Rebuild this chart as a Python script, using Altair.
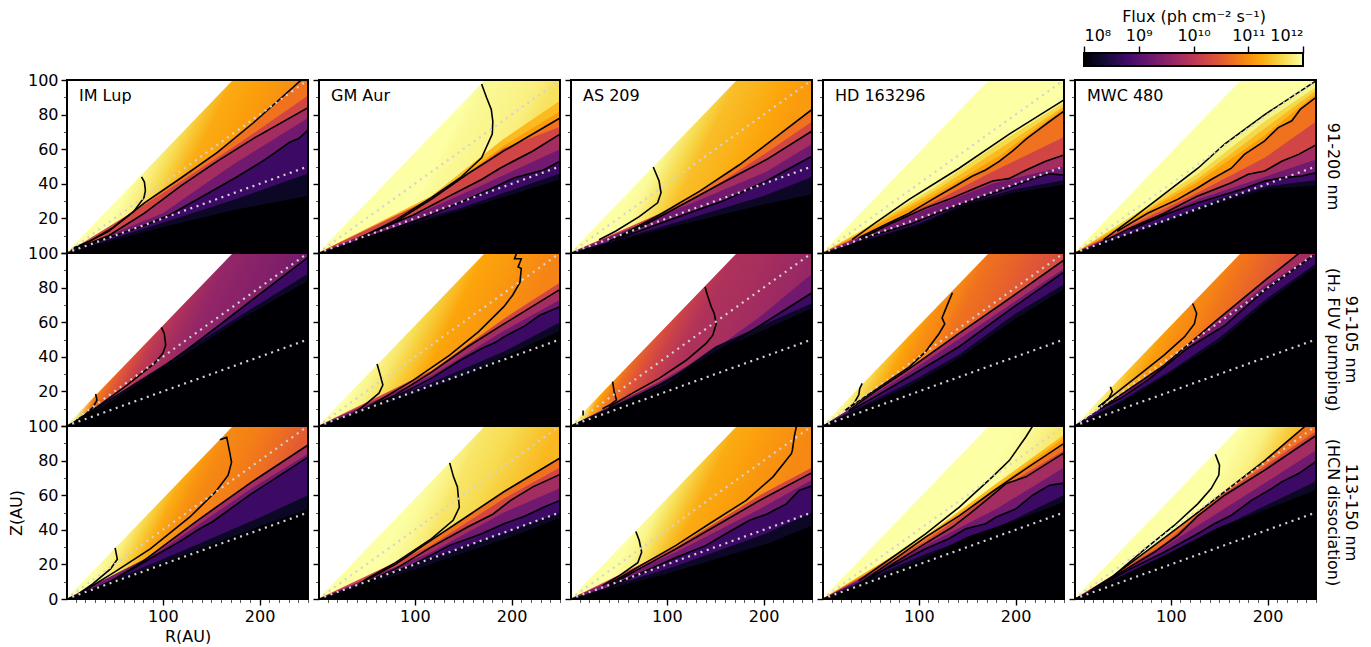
import altair as alt
import pandas as pd

STARS = ["IM Lup", "GM Aur", "AS 209", "HD 163296", "MWC 480"]
ROW_TEXT = [["91-200 nm"], ["91-105 nm", "(H₂ FUV pumping)"], ["113-150 nm", "(HCN dissociation)"]]
LEVELS = [8, 8.5, 9, 9.5, 10, 10.5, 11, 11.25, 11.5, 11.75, 12]
BAR_TICKS = [8, 9, 10, 11, 12]
INFERNO = ["#000004", "#160b39", "#420a68", "#6a176e", "#932667", "#bc3754", "#dd513a", "#f37819", "#fca50a", "#f6d746", "#fcffa4"]
Y_MAJOR = [0, 20, 40, 60, 80, 100]
Y_MINOR = [10, 30, 50, 70, 90]
X_MAJOR = [100, 200]
X_MINOR = [10, 20, 30, 40, 50, 60, 70, 80, 90, 110, 120, 130, 140, 150, 160, 170, 180, 190, 210, 220, 230, 240, 250]
WEDGE_R = [0, 250]
WEDGE_Z = [0, 145]
DOT_HI_Z = [0, 100]
DOT_LO_Z = [0, 50]

# black contour lines: log10 flux -> (R, Z)
L00 = {12: [(8,3),(25,7),(48,14.5),(70,24),(80.5,32),(82,36),(81,41),(78,44)],
       11: [(5,1.5),(18,5),(44,12.5),(81,29),(119,43.5),(156,58),(193,75),(243,100)],
       10: [(10,2.5),(44,10),(81,23),(119,39),(156,53),(193,66),(250,84)],
       9: [(10,2),(44,9),(74,14.5),(107,22),(145,34),(175,43.5),(200,52),(216,58),(231,64),(240,66),(250,71)]}
L01 = {12: [(37,6),(50,10.6),(80,19),(117,32),(147,43.5),(169,55),(180,68.7),(180.6,76),(179,83),(174,90),(169,97.7)],
       11: [(42.5,8.7),(80,18),(117,31),(154,45.5),(192,59),(250,78)],
       10: [(42.5,8.7),(61,13.5),(98.5,22),(136,33),(169,42.5),(188,49),(222,59),(250,68.7)],
       9: [(42.5,7.7),(80,14.5),(117,22),(154,31),(177,36.7),(203,43.5),(233,48),(250,53)]}
L02 = {12: [(30,7.7),(47,12.6),(71.5,21),(90.5,29),(94,34.8),(92,41.6),(86,49.7)],
       11: [(51,9.7),(92,22),(134,35.8),(175,51),(210,65.8),(250,83)],
       10: [(40,6.8),(65,12.6),(109.5,26),(154,39.6),(203,54),(250,70.5)],
       9: [(47,7.7),(85,15.5),(127,24),(158,30),(203,41.6),(227,49),(250,56)]}
L03 = {12: [(31,7.7),(55,17.4),(90,31),(141.6,49),(193.4,68.7),(250,88.5)],
       11: [(38,8.7),(62,15.5),(90,23),(114,31),(134.7,37.7),(155.4,44.5),(169,48),(183,53),(197,59),(210.7,65.8),(224.5,71.6),(235,76),(250,82)],
       10: [(38,7.7),(72.5,17.4),(107,26),(131,31),(155,36.7),(176,41.6),(193,43),(211,48),(231,53),(250,56.7)],
       9: [(31,5),(55,10.6),(90,16.4),(124,24),(159,31),(193,37.7),(221,43.5),(235,45.8),(250,45)]}
L04 = {12: [(30.5,7.7),(58,19),(86,31),(128,49),(155.6,63),(197,80),(250,99.5)],
       11: [(44.5,12.6),(76,23),(107,31),(128,37.7),(141.7,42.5),(162.5,49),(176,57),(197,64.8),(211,72.5),(225,76.4),(233.7,83),(250,90)],
       10: [(24,5),(58,14.5),(93,23),(114,29),(128,33),(162.5,40.6),(180,45.5),(197,47.4),(214.6,53),(232,57),(250,62.5)],
       9: [(58,13.5),(93,22),(128,29),(176,37.3),(197,41.6),(214.6,43.5),(235,44.5),(250,46.4)]}
L10 = {11: [(11,2.5),(18,5.4),(28,11),(32,15),(30.6,18.5)],
       10: [(11,3.5),(27.6,9.2),(61,22.7),(91,36),(100,42),(103,46.7),(101.5,53.5),(98.5,57)],
       9: [(13,3.5),(42.5,12),(80,25.6),(136,48.7),(192,72.7),(250,97.5)]}
L11 = {12: [(37,7.3),(50,13),(63,19),(67,23.7),(64,30),(61,35.8)],
       11: [(37,6.3),(61,14),(98.5,26.5),(136,41),(165.7,54.4),(192,69),(201,75.6),(208.6,83),(210,91),(206.7,92),(210,96.7),(203,96.7),(205,99.6)],
       10: [(42.5,8.3),(80,18),(117,31),(154.5,45.8),(192,59),(250,79)],
       9: [(42.5,7.3),(80,17),(117,27.5),(147,38),(169,44.8),(184,48.6),(192,51.5),(214,58),(229,64),(250,69)]}
L12 = {12: [(13.5,6),(13.5,9)],
       11: [(33.5,10),(42,12.5),(48,15),(45.6,19.8),(44,25.6)],
       10: [(40,11),(64.6,19),(92,27.5),(120,38),(140.6,47.7),(147.5,52.5),(151,59),(149,65),(146,68.8),(142,75.6),(139.5,80.4)],
       9: [(40,10),(57.7,14),(92,23.7),(144,40),(196,58),(250,77)]}
L13 = {12: [(24,9),(33,13),(38,18),(39,21.7),(41.5,24.6)],
       11: [(24,9),(38,14.4),(72.5,27.5),(90,34),(107,43),(121,53.5),(126.8,59),(124,62.5),(129.5,70),(134.7,77)],
       10: [(27.6,9),(55,20),(90,33),(141.6,53.5),(193.4,73.6),(250,96)],
       9: [(27.6,8.3),(55,17),(90,28.5),(141.6,45.8),(193.4,67),(250,89)]}
L14 = {12: [(27,11),(36,16),(39.5,19.8),(37.5,22.7)],
       11: [(25,11),(41,18),(65,28.5),(93,41),(114,51.5),(124.3,59),(126.7,65),(122.6,70.8)],
       10: [(27,10),(58,21.7),(93,35),(145,60),(197,84),(232,99.6)],
       9: [(27,10),(48,16),(76,26.5),(93,34),(117,44.8),(155.6,58),(197,78.5),(247.6,98.6)]}
L20 = {12: [(12.7,3),(27.6,8.7),(46,17.4),(53,23),(50.7,29.6)],
       11: [(16.4,3.9),(50,15.5),(87,29),(128,47.4),(154.5,62),(167.5,71.6),(171,79),(169.4,84),(166,93.4),(159,92)],
       10: [(16,3),(42.5,8.7),(80,22),(136,45.5),(192,67.7),(250,89)],
       9: [(35,6.8),(72,18.4),(95,26),(117,33),(138,40.6),(151,44.5),(162,49),(192,61),(250,82)]}
L21 = {12: [(37,5.8),(50,11.6),(80,21),(117,34.8),(139.6,45.5),(146,53),(144,64.8),(140,70.6),(136,78.7)],
       11: [(42.5,8.7),(80,20),(117,34),(154.5,48),(192,62),(250,81.5)],
       10: [(46,8.7),(80,17.4),(117,30),(154.5,41.6),(180.6,49),(199,57),(222,64.8),(250,72)],
       9: [(42.5,7.7),(61,11.6),(98.5,20),(136,31),(169,37.7),(192,43.5),(214,48),(233,53),(250,57)]}
L22 = {12: [(33.5,7.7),(51,13.5),(70,21),(74,27),(71.5,33.8),(68,39)],
       11: [(40.4,8.7),(75,20),(109.5,31),(144,43.5),(182,57),(209.7,70.6),(228.7,84),(229.7,86),(232,94.8),(234,100)],
       10: [(40.4,7.7),(68,16.4),(109.5,29),(154.4,43.5),(196,57),(250,73)],
       9: [(40.4,6.8),(75,15.5),(109.5,24),(140.6,31),(161,37.7),(185.5,45.5),(203,49),(223.5,55),(237,62.9),(250,65.4)]}
L23 = {12: [(38,10.6),(72.5,24),(107,37.7),(141.6,53),(176,70.6),(193.4,80),(210.7,93.8),(217.6,100)],
       11: [(38,8.7),(72.5,22),(107,35.8),(141.6,48),(176,62),(210.7,75.4),(250,90)],
       10: [(38,7.7),(72.5,20),(103.6,31),(134.7,41.6),(152,49),(176,60),(190,66.7),(210.7,70.6),(250,84.5)],
       9: [(45,11.6),(79.4,21),(107,29),(131,34.8),(148.5,40.6),(169,43.5),(180,47.4),(200,52),(217.6,60),(235,65.8),(250,67)]}
L24 = {12: [(16.7,4.8),(41,13.5),(75.7,30),(103.5,42.5),(127.8,55),(141.7,63.8),(149.6,71.6),(150.3,77.4),(146,83.7)],
       11: [(41,13.5),(75.7,28),(110.4,42.5),(155.6,62),(197,80),(239,100)],
       10: [(23.6,6.8),(51.4,16.4),(82.6,27),(107,36.7),(127.8,48),(155.6,60),(197,74.5),(250,94.5)],
       9: [(30.5,8.7),(58,17.4),(93,27),(127.8,37.7),(145,43.5),(162.5,48.4),(183.3,57),(204,63.8),(214.6,67.7),(232,72.5),(250,79.5)]}

# further flux levels
F00 = {8: [(100,15),(175,25),(250,33)], 8.5: [(100,17.5),(175,31),(250,46)], 9.5: [(100,23),(175,52),(250,78)],
       10.5: [(100,34.5),(175,62),(250,91)]}
F01 = {8: [(100,17),(150,25),(250,42.5)], 8.5: [(100,18.5),(150,26.5),(250,46)], 9.5: [(117,26),(169,39),(250,60)],
       10.5: [(117,31.5),(192,60.5),(250,73)], 11.25: [(117,32),(192,62),(250,82)], 11.5: [(117,33),(192,66),(250,88)]}
F02 = {8: [(100,14.5),(200,28),(250,34)], 8.5: [(100,16),(200,33),(250,44)], 9.5: [(127,29),(203,47),(250,63)],
       10.5: [(134,33),(203,58),(250,76)]}
F03 = {8: [(100,16),(150,28),(200,35),(250,39.6)], 8.5: [(100,17),(150,29),(200,37),(250,42)], 9.5: [(107,25),(176,40),(250,50)],
       10.5: [(114,29),(176,47),(250,67)], 11.25: [(114,33),(183,56),(250,84)], 11.5: [(114,35),(183,60),(250,85)], 11.75: [(114,37),(183,63.5),(250,87)]}
F04 = {8: [(100,19),(150,29),(200,37),(250,39)], 8.5: [(100,20),(150,31),(200,38.5),(250,42)], 9.5: [(128,31),(197,44),(250,54)],
       10.5: [(128,35),(197,55),(250,76)], 11.25: [(128,41),(197,68),(250,92)], 11.5: [(128,43),(197,72),(250,94)], 11.75: [(128,46),(197,76),(250,96)]}
F10 = {8: [(50,14),(100,33),(175,60),(250,84)], 8.5: [(100,35),(175,62),(250,88)]}
F11 = {8: [(100,19),(150,29),(250,55)], 8.5: [(117,25),(192,43),(250,60)], 9.5: [(117,29),(192,55),(250,73)],
       10.5: [(117,32),(192,62),(250,83)]}
F12 = {8: [(100,24),(150,43),(250,68)], 8.5: [(100,26),(150,46),(250,71)], 9.5: [(92,25.5),(144,42),(196,63),(250,88)]}
F13 = {8: [(90,23),(141,39),(200,62),(250,79)], 8.5: [(90,25),(141,41),(200,65),(250,82)], 9.5: [(90,31),(141,50),(250,91)]}
F14 = {8: [(50,14),(100,31),(150,48.6),(200,72),(250,92)], 8.5: [(50,15),(100,32),(150,51),(200,74),(250,94)], 9.5: [(93,34.5),(197,81),(250,100)]}
F20 = {8: [(100,21),(200,42),(250,52)], 8.5: [(100,23),(200,47),(250,60)], 9.5: [(95,27),(192,64),(250,84)]}
F21 = {8: [(100,17),(200,36),(250,47)], 8.5: [(117,24),(192,38),(250,50)], 9.5: [(117,27),(192,50),(250,64)],
       10.5: [(117,31),(192,58),(250,76)]}
F22 = {8: [(100,14.6),(204,32),(250,42.5)], 8.5: [(109,19),(203,38),(250,50)], 9.5: [(109.5,27),(196,52),(250,69)],
       10.5: [(109.5,30),(196,60),(250,76)]}
F23 = {8: [(100,22),(150,36),(200,45.5),(250,56)], 8.5: [(107,26),(180,41),(250,60)], 9.5: [(107,31),(180,52),(250,76)],
       10.5: [(107,33.5),(176,61),(250,86)], 11.25: [(107,36),(176,63),(250,93)], 11.5: [(107,36.5),(176,65),(250,95)]}
F24 = {8: [(100,27),(150,41.6),(200,52),(250,63)], 8.5: [(93,25),(183,50),(250,68)], 9.5: [(93,30),(183,62),(250,86)],
       10.5: [(93,32),(155,61),(250,97)]}

# flux read along the wedge edge (R up to 172) and the top edge (R beyond), per panel
EDGE_R = [10, 30, 60, 90, 120, 150, 172, 200, 225, 250]
E00 = [12, 12, 12, 11.85, 11.65, 11.4, 11.25, 11.15, 11.05, 10.95]
E01 = [12, 12, 12, 12, 12, 12, 11.95, 11.9, 11.85, 11.7]
E02 = [12, 12, 12, 11.95, 11.75, 11.55, 11.4, 11.3, 11.2, 11.1]
E03 = [12, 12, 12, 12, 12, 12, 12, 12, 12, 12]
E04 = [12, 12, 12, 12, 12, 12, 12, 12, 12, 12]
E10 = [11.9, 10.85, 10.45, 10.1, 9.85, 9.7, 9.6, 9.5, 9.4, 9.3]
E11 = [12, 12, 11.9, 11.75, 11.55, 11.35, 11.2, 11.1, 11.0, 10.9]
E12 = [11.95, 11.2, 10.7, 10.4, 10.15, 9.95, 9.85, 9.8, 9.72, 9.65]
E13 = [12, 11.85, 11.5, 11.2, 11.0, 10.9, 10.75, 10.6, 10.45, 10.3]
E14 = [12, 11.8, 11.4, 11.15, 11.0, 10.9, 10.8, 10.6, 10.4, 10.2]
E20 = [12, 12, 11.85, 11.55, 11.25, 11.05, 10.95, 10.85, 10.7, 10.5]
E21 = [12, 12, 12, 12, 11.95, 11.85, 11.75, 11.65, 11.5, 11.35]
E22 = [12, 12, 12, 11.9, 11.65, 11.4, 11.25, 11.15, 11.05, 10.95]
E23 = [12, 12, 12, 12, 12, 12, 12, 12, 11.9, 11.75]
E24 = [12, 12, 12, 12, 12, 12, 12, 11.85, 11.5, 11.2]
# highest flux level still drawn as a flat band in each panel
TOP_BAND = [[11, 11.5, 11, 12, 12], [9, 10.5, 9.5, 10, 10], [10, 11, 10.5, 11.5, 11]]

LINES = [[L00, L01, L02, L03, L04], [L10, L11, L12, L13, L14], [L20, L21, L22, L23, L24]]
FILLS = [[F00, F01, F02, F03, F04], [F10, F11, F12, F13, F14], [F20, F21, F22, F23, F24]]
EDGES = [[E00, E01, E02, E03, E04], [E10, E11, E12, E13, E14], [E20, E21, E22, E23, E24]]

W, H, BAR_H = 241, 173, 13
FONT = "DejaVu Sans"
FS = 16
GX, GY = 0.9, 0.316
xs = alt.Scale(domain=[1, 250], nice=False, zero=False)
ys = alt.Scale(domain=[0, 100], nice=False, zero=False)
cs = alt.Scale(scheme="inferno", domain=[8, 12], clamp=True)
ONE = pd.DataFrame({"a": [0]})
GRAD = alt.LinearGradient(gradient="linear", x1=0, x2=1, y1=0, y2=0,
                          stops=[alt.GradientStop(color=c, offset=i / (len(INFERNO) - 1)) for i, c in enumerate(INFERNO)])


def flux_colour(level):
    f = (min(max(level, 8), 12) - 8) / 4 * (len(INFERNO) - 1)
    i = min(int(f), len(INFERNO) - 2)
    a, b = INFERNO[i], INFERNO[i + 1]
    mix = [round(int(a[k:k + 2], 16) * (1 - f + i) + int(b[k:k + 2], 16) * (f - i)) for k in (1, 3, 5)]
    return "#%02x%02x%02x" % tuple(mix)


def edge_offset(r):
    norm = GX * GX + GY * GY
    if r <= 172:
        return (GX * r / 250 + GY * (1 - 0.58 * r / 100)) / norm
    return (GX * r / 250) / norm


def edge_fill(values):
    stops = [alt.GradientStop(color=flux_colour(values[0]), offset=0)]
    for r, v in zip(EDGE_R, values):
        stops.append(alt.GradientStop(color=flux_colour(v), offset=round(min(edge_offset(r), 1), 4)))
    return alt.LinearGradient(gradient="linear", x1=0, y1=0, x2=GX, y2=GY, stops=stops)


def band_colour(level):
    i = LEVELS.index(level)
    return 8 if i == 0 else (LEVELS[i - 1] + level) / 2


def outline(points):
    pts = list(points)
    if pts[0][0] > pts[-1][0]:
        pts = pts[::-1]
    kept, top = [(0, 0)], 0
    for r, z in pts:
        if r > top:
            kept.append((r, z))
            top = r
    if top < 245:
        kept += [(top + 0.01, 300), (250, 300)]
    elif top < 250:
        kept.append((250, kept[-1][1]))
    return kept


def fill_table(lines, extra, top_band):
    rows = []
    table = {**lines, **extra}
    for level in sorted(table, reverse=True):
        if level > top_band:
            continue
        for i, (r, z) in enumerate(outline(table[level])):
            rows.append(dict(band=level, val=band_colour(level), i=i, r=r, z=z, z0=0))
    return pd.DataFrame(rows)


def line_table(lines):
    return pd.DataFrame([dict(level=k, i=i, r=r, z=z) for k, pts in lines.items() for i, (r, z) in enumerate(pts)])


def panel(row, col):
    bottom, left = row == 2, col == 0
    y_expr = "datum.label" if bottom else "datum.value == 0 ? '' : datum.label"
    y_axis = alt.Axis(values=Y_MAJOR, labels=left, labelExpr=y_expr, tickSize=6, tickWidth=1.4, tickColor="black",
                      domain=False, grid=False, labelFontSize=FS, labelFont=FONT, labelColor="black", labelPadding=3,
                      title="Z(AU)" if (left and bottom) else None, titleFontSize=FS, titleFont=FONT,
                      titleFontWeight="normal", titleColor="black", titlePadding=3)
    x_axis = None
    if bottom:
        x_axis = alt.Axis(values=X_MAJOR, labelAngle=0, tickSize=6, tickWidth=1.4, tickColor="black", domain=False, grid=False,
                          labelFontSize=FS, labelFont=FONT, labelColor="black", labelPadding=3,
                          title="R(AU)" if left else None, titleFontSize=FS, titleFont=FONT,
                          titleFontWeight="normal", titleColor="black", titlePadding=4)
    under = alt.Chart(pd.DataFrame({"r": [1, 250], "z": [100, 100], "z0": [0, 0]})).mark_area(fill=edge_fill(EDGES[row][col])).encode(
        x=alt.X("r:Q", scale=xs, axis=x_axis),
        y=alt.Y("z:Q", scale=ys, axis=y_axis, stack=None),
        y2=alt.Y2("z0:Q"),
    )
    fills = alt.Chart(fill_table(LINES[row][col], FILLS[row][col], TOP_BAND[row][col])).mark_area(clip=True, interpolate="linear").encode(
        x=alt.X("r:Q", scale=xs, axis=None),
        y=alt.Y("z:Q", scale=ys, axis=None, stack=None),
        y2=alt.Y2("z0:Q"),
        fill=alt.Fill("val:Q", scale=cs, legend=None),
        detail="band:Q",
    )
    wedge = alt.Chart(pd.DataFrame({"r": WEDGE_R, "z": WEDGE_Z, "t": [300, 300]})).mark_area(color="white", clip=True).encode(
        x=alt.X("r:Q", scale=xs, axis=None), y=alt.Y("z:Q", scale=ys, axis=None, stack=None), y2="t:Q")
    contour = alt.Chart(line_table(LINES[row][col])).mark_line(color="black", strokeWidth=1.6, clip=True).encode(
        x=alt.X("r:Q", scale=xs, axis=None), y=alt.Y("z:Q", scale=ys, axis=None), detail="level:Q", order="i:Q")
    dots = alt.Chart(pd.DataFrame({"r": WEDGE_R * 2, "z": DOT_HI_Z + DOT_LO_Z, "d": ["a", "a", "b", "b"]})).mark_line(
        color="lightgray", strokeWidth=2.2, strokeDash=[2, 4.6], clip=True).encode(
        x=alt.X("r:Q", scale=xs, axis=None), y=alt.Y("z:Q", scale=ys, axis=None), detail="d:N")
    minor_y = alt.Axis(orient="left", values=Y_MINOR, labels=False, tickSize=3.5, tickWidth=0.9, tickColor="#444444", domain=False, grid=False, title=None)
    minor_x = None
    if bottom:
        minor_x = alt.Axis(orient="bottom", values=X_MINOR, labels=False, tickSize=3.5, tickWidth=0.9, tickColor="#444444", domain=False, grid=False, title=None)
    minors = alt.Chart(pd.DataFrame({"r": WEDGE_R, "z": DOT_LO_Z})).mark_point(opacity=0).encode(
        x=alt.X("r:Q", scale=xs, axis=minor_x), y=alt.Y("z:Q", scale=ys, axis=minor_y))
    frame = alt.Chart(ONE).mark_rect(fill=None, stroke="black", strokeWidth=2).encode(
        x=alt.value(0), x2=alt.value(W), y=alt.value(0), y2=alt.value(H))
    layers = [under, fills, wedge, contour, dots, minors, frame]
    if row == 0:
        layers.append(alt.Chart(ONE).mark_text(text=STARS[col], align="left", baseline="middle", font=FONT, fontSize=FS, color="black").encode(
            x=alt.value(12), y=alt.value(16)))
    if col == 4:
        texts = ROW_TEXT[row]
        for k, t in enumerate(texts):
            off = 17 + (len(texts) - 1 - k) * 18
            layers.append(alt.Chart(ONE).mark_text(text=t, angle=90, align="center", baseline="middle", font=FONT, fontSize=FS, color="black").encode(
                x=alt.value(W + off), y=alt.value(H / 2)))
    return alt.layer(*layers).resolve_axis(x="independent", y="independent").properties(width=W, height=H)


def blank():
    return alt.Chart(ONE).mark_text(text=" ", opacity=0).encode(x=alt.value(0), y=alt.value(0)).properties(width=W, height=27)


labels = "{8:'10⁸',9:'10⁹',10:'10¹⁰',11:'10¹¹',12:'10¹²'}[datum.value]"
bar = alt.Chart(pd.DataFrame({"a": [BAR_TICKS[0]], "b": [BAR_TICKS[-1]]})).mark_rect(
    fill=GRAD, stroke="black", strokeWidth=2).encode(
    x=alt.X("a:Q", scale=alt.Scale(domain=[8, 12], range=[9, 228], nice=False, zero=False),
            axis=alt.Axis(orient="top", values=BAR_TICKS, labelExpr=labels, labelAngle=0, tickSize=7, tickWidth=1.4, tickColor="black",
                          domain=False, grid=False, labelFontSize=FS, labelFont=FONT, labelColor="black", labelPadding=3,
                          title="Flux (ph cm⁻² s⁻¹)", titleFontSize=FS, titleFont=FONT, titleFontWeight="normal",
                          titleColor="black", titlePadding=3)),
    x2="b:Q",
    y=alt.value(0), y2=alt.value(BAR_H),
).properties(width=W, height=27)

cells = [blank(), blank(), blank(), blank(), bar]
for row in range(3):
    for col in range(5):
        cells.append(panel(row, col))

chart = alt.concat(*cells, columns=5).properties(
    spacing={"row": 0, "column": 11}, bounds="flush", align={"row": "each", "column": "all"},
    padding={"left": 0, "top": 0, "right": 3, "bottom": 0}, background="white"
).configure_view(stroke=None)
chart.save("out.html", embed_options={"renderer": "svg", "actions": False})
